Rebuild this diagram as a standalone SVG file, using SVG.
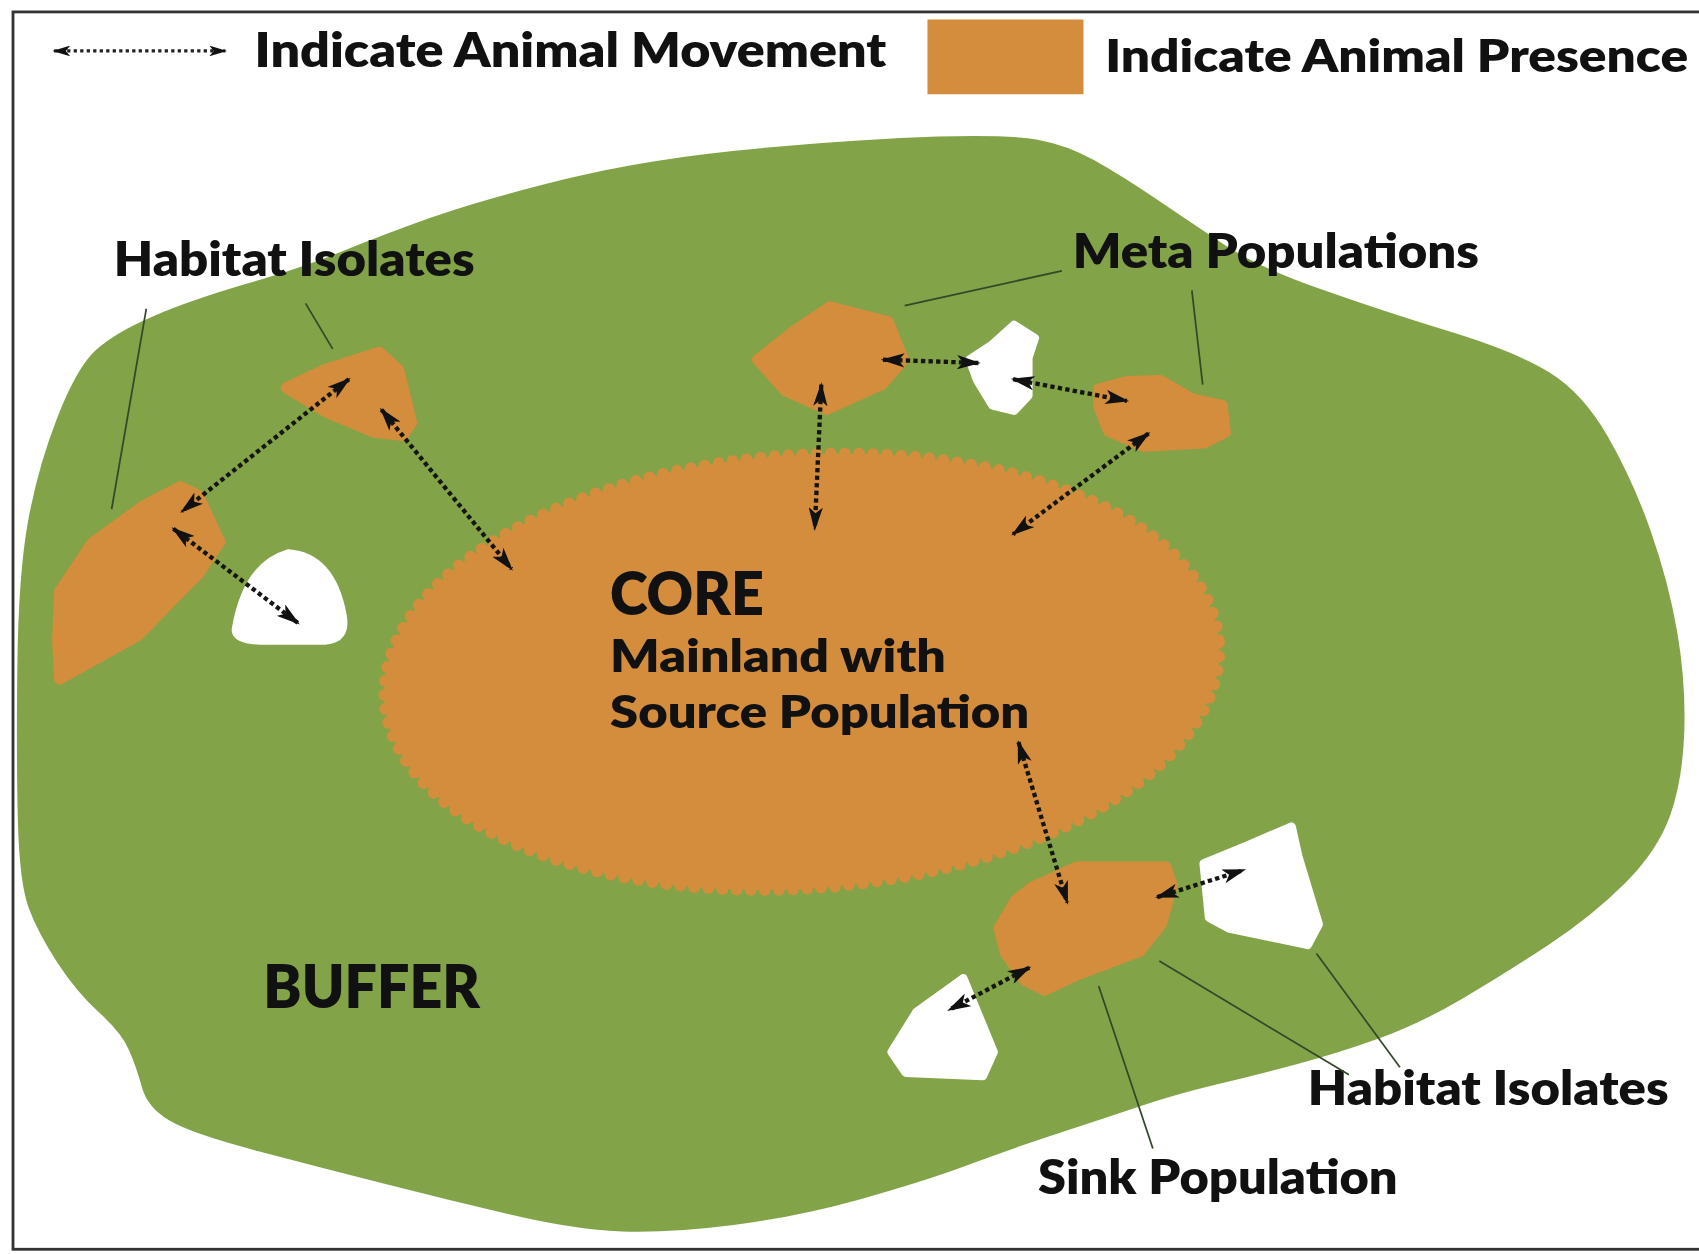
<svg xmlns="http://www.w3.org/2000/svg" width="1699" height="1254" viewBox="0 0 1699 1254">
<defs>
<style>
.lbl{font-family:Lato,"Liberation Sans",sans-serif;font-weight:800;fill:#111;}
.org{fill:#D38D3D;stroke:#D38D3D;stroke-width:10;stroke-linejoin:round;}
.wht{fill:#fff;stroke:#fff;stroke-width:8;stroke-linejoin:round;}
.mv{stroke:#151515;stroke-width:4;stroke-dasharray:4 3;fill:none;marker-start:url(#ah);marker-end:url(#ah);}
.ld{stroke:#34482a;stroke-width:1.6;fill:none;}
</style>
<marker id="ah" viewBox="0 0 10 6" refX="9" refY="3" markerWidth="5.5" markerHeight="3.3" orient="auto-start-reverse">
<path d="M0,0 L10,3 L0,6 L2.5,3 Z" fill="#111"/>
</marker>
</defs>
<rect width="1699" height="1254" fill="#fff"/>
<g transform="scale(1.0835)">
<rect x="12" y="11" width="1570" height="1142" fill="none" stroke="#333" stroke-width="2.6"/>

<g id="legend">
<line x1="50" y1="47" x2="208" y2="47" stroke="#222" stroke-width="3" stroke-dasharray="3 3" marker-start="url(#ah)" marker-end="url(#ah)"/>
<text class="lbl" x="235" y="62" font-size="44" textLength="583" lengthAdjust="spacingAndGlyphs">Indicate Animal Movement</text>
<rect x="856" y="18" width="144" height="69" fill="#D38D3D"/>
<text class="lbl" x="1020" y="66" font-size="42" textLength="538" lengthAdjust="spacingAndGlyphs">Indicate Animal Presence</text>
</g>

<g id="buffer">
<path fill="#82A347" d="M865,126 Q930,124 957.5,129 Q985,134 1010,148 Q1035,162 1067.5,184 Q1100,206 1130,226 Q1160,246 1218,266.5 Q1276,287 1338,306 Q1400,325 1430.5,344 Q1461,363 1484,403 Q1507,443 1523.5,490 Q1540,537 1548,583.5 Q1556,630 1554.5,675 Q1553,720 1541.5,752.5 Q1530,785 1500,815 Q1470,845 1430,871.5 Q1390,898 1350,921.5 Q1310,945 1272.5,958.5 Q1235,972 1197.5,982 Q1160,992 1122.5,1001 Q1085,1010 1047.5,1022.5 Q1010,1035 972,1047.5 Q934,1060 894,1075 Q854,1090 795,1106.5 Q736,1123 677,1130.5 Q618,1138 574,1136.5 Q530,1135 471,1121 Q412,1107 353,1092 Q294,1077 235,1061.5 Q176,1046 156,1034 Q136,1022 131,1003.5 Q126,985 119,969 Q112,953 91.5,934.5 Q71,916 53,888.5 Q35,861 26.5,838 Q18,815 16.5,757.5 Q15,700 16,615 Q17,530 26,480.5 Q35,431 53,385 Q71,339 88.5,323 Q106,307 141,292 Q176,277 229,261.5 Q282,246 316,232 Q350,218 396,201.5 Q442,185 521,165.5 Q600,146 700,137 Q800,128 865,126 Z"/>
<text class="lbl" x="243" y="930" font-size="56" textLength="200" lengthAdjust="spacingAndGlyphs">BUFFER</text>
</g>

<g id="core">
<ellipse cx="740" cy="620" rx="386" ry="200" transform="rotate(-4 740 620)" fill="#D38D3D" stroke="#D38D3D" stroke-width="11" stroke-dasharray="0 13" stroke-linecap="round"/>
<text class="lbl" x="563" y="568" font-size="56" textLength="142" lengthAdjust="spacingAndGlyphs">CORE</text>
<text class="lbl" x="563" y="620" font-size="42" textLength="310" lengthAdjust="spacingAndGlyphs">Mainland with</text>
<text class="lbl" x="563" y="672" font-size="42" textLength="387" lengthAdjust="spacingAndGlyphs">Source Population</text>
</g>

<g id="habitat-isolate-1"><polygon class="org" points="264,358 300,341 350,325 368,341 380,390 372,402 345,399 300,380"/></g>
<g id="habitat-isolate-2"><polygon class="org" points="166,449 183,457 203,500 183,530 127,587 55,627 53,590 55,546 85,501 132,467"/></g>
<g id="empty-patch-1"><path class="wht" d="M218,580 Q228,522 266,511 Q306,514 316,568 Q320,590 300,591 L240,591 Q216,590 218,580 Z"/></g>
<g id="meta-population-1"><polygon class="org" points="699,332 732,306 766,283 820,297 834,332 814,355 763,378 725,361"/></g>
<g id="empty-patch-2"><polygon class="wht" points="895,332 916,318 936,300 955,312 949,330 949,365 936,379 916,374 902,351"/></g>
<g id="meta-population-2"><polygon class="org" points="1014,359 1040,352 1071,351 1100,368 1128,374 1131,399 1111,409 1056,412 1023,398 1014,375"/></g>
<g id="sink-population"><polygon class="org" points="922,857 937,831 952,819 994,800 1076,800 1082,817 1072,853 1052,878 994,900 964,914 946,905 928,880"/></g>
<g id="empty-patch-3"><polygon class="wht" points="1111,797 1150,781 1192,763 1198,790 1217,853 1207,872 1135,857 1116,847"/></g>
<g id="empty-patch-4"><polygon class="wht" points="889,903 917,971 907,993 836,990 823,971 846,934"/></g>

<g id="labels">
<text class="lbl" x="105" y="255" font-size="44" textLength="333" lengthAdjust="spacingAndGlyphs">Habitat Isolates</text>
<text class="lbl" x="990" y="247" font-size="44" textLength="375" lengthAdjust="spacingAndGlyphs">Meta Populations</text>
<text class="lbl" x="1207" y="1020" font-size="44" textLength="333" lengthAdjust="spacingAndGlyphs">Habitat Isolates</text>
<text class="lbl" x="958" y="1102" font-size="44" textLength="332" lengthAdjust="spacingAndGlyphs">Sink Population</text>
</g>

<g id="connectors">
<line class="ld" x1="135" y1="285" x2="103" y2="470"/>
<line class="ld" x1="282" y1="280" x2="307" y2="322"/>
<line class="ld" x1="980" y1="250" x2="835" y2="282"/>
<line class="ld" x1="1100" y1="268" x2="1110" y2="355"/>
<line class="ld" x1="1070" y1="887" x2="1245" y2="992"/>
<line class="ld" x1="1215" y1="880" x2="1292" y2="985"/>
<line class="ld" x1="1014" y1="910" x2="1064" y2="1060"/>
<line class="mv" x1="322" y1="350" x2="168" y2="472"/>
<line class="mv" x1="352" y1="378" x2="472" y2="525"/>
<line class="mv" x1="160" y1="488" x2="275" y2="575"/>
<line class="mv" x1="758" y1="355" x2="752" y2="488"/>
<line class="mv" x1="815" y1="332" x2="903" y2="335"/>
<line class="mv" x1="935" y1="350" x2="1040" y2="370"/>
<line class="mv" x1="1060" y1="400" x2="935" y2="493"/>
<line class="mv" x1="940" y1="685" x2="985" y2="833"/>
<line class="mv" x1="1068" y1="828" x2="1148" y2="803"/>
<line class="mv" x1="950" y1="893" x2="876" y2="932"/>
</g>
</g>
</svg>
